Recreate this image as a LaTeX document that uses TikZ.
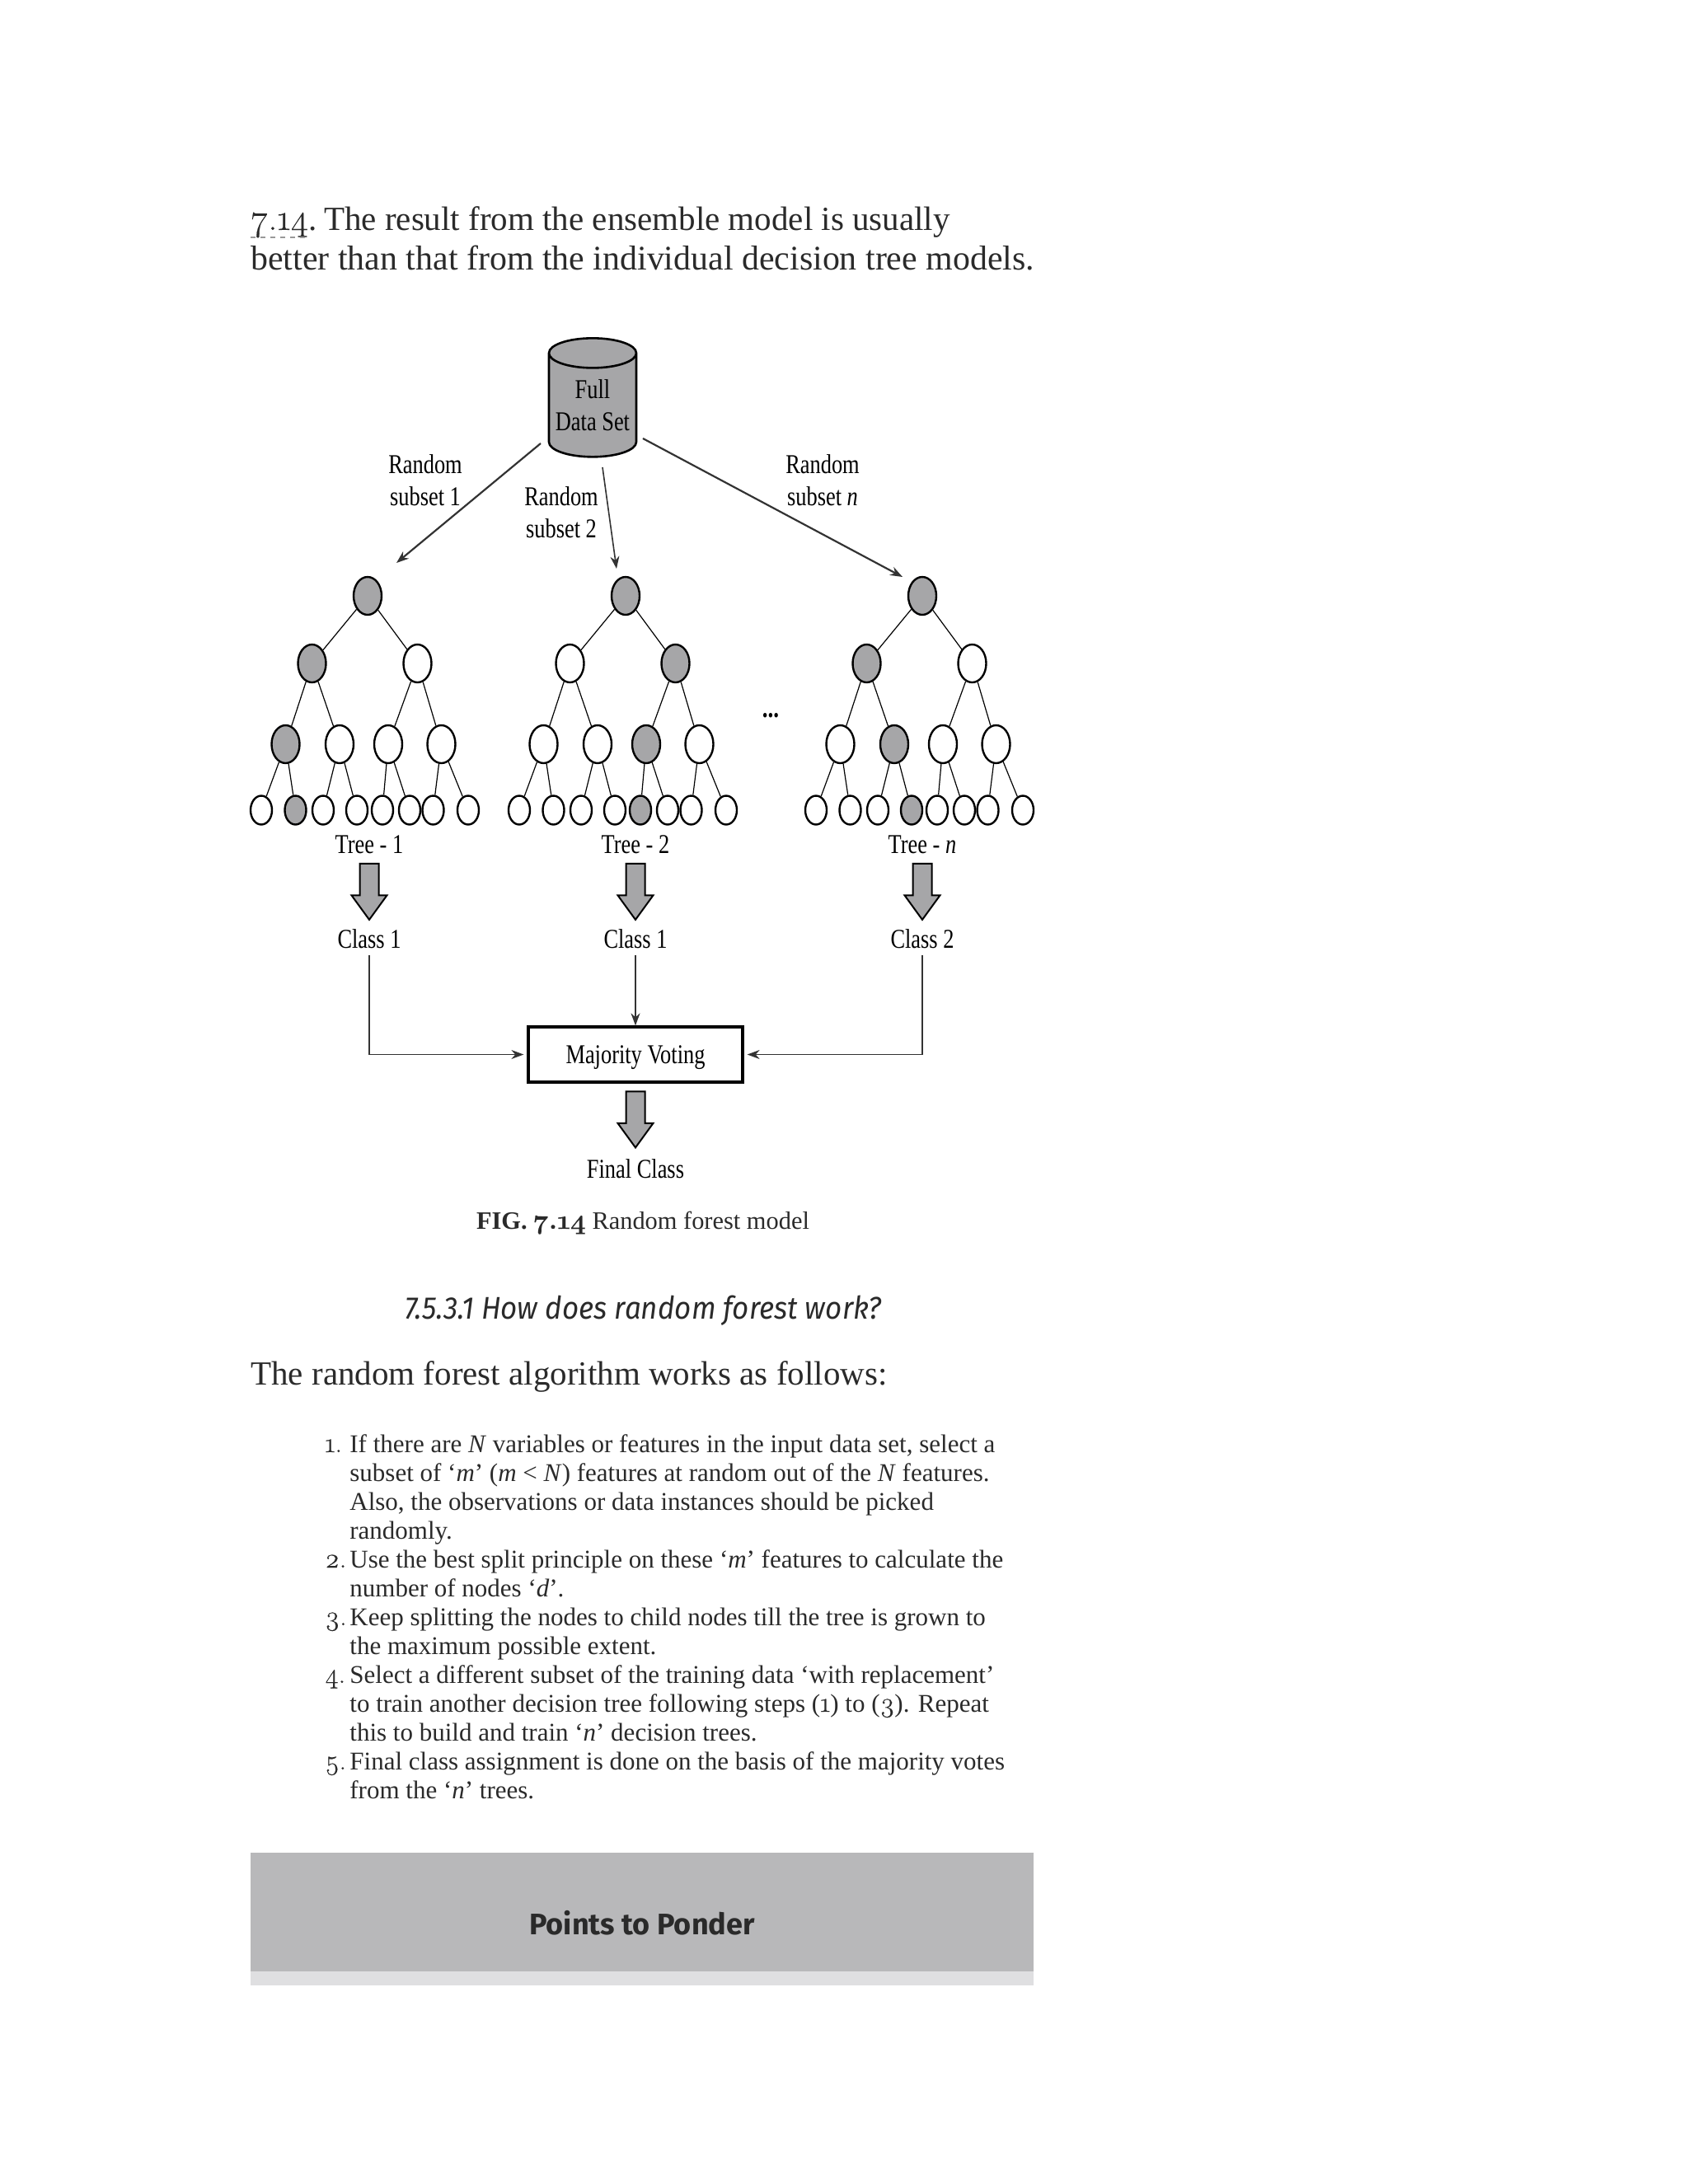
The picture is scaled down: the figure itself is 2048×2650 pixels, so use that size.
\documentclass[tikz,border=0pt]{standalone}
\usepackage{fontspec}
\setmainfont{Liberation Serif}
\newfontfamily\figfont[FakeStretch=0.8]{Liberation Serif}
\newfontfamily\osf[Numbers=OldStyle,Scale=1.08,FakeBold=0.4]{Latin Modern Roman}
\newfontfamily\headfont{Fira Sans}
\newfontfamily\headital[FakeStretch=0.92]{Fira Sans}
\newcommand{\osn}[1]{{\osf #1}}
\usepackage{tikz}
\usetikzlibrary{arrows.meta,shapes.geometric,shapes.arrows}
\definecolor{inkdark}{HTML}{2A2A2A}
\definecolor{shade}{HTML}{A6A6A8}
\definecolor{barmid}{HTML}{B8B8BA}
\definecolor{barlow}{HTML}{DFDFE1}

\begin{document}
\begin{tikzpicture}[
  x=0.5pt,y=-0.5pt,
  bodytxt/.style={font=\fontsize{20.5pt}{24pt}\selectfont,text=inkdark,anchor=base west,inner sep=0pt},
  itemtxt/.style={font=\fontsize{15.5pt}{17.5pt}\selectfont,text=inkdark,anchor=base west,align=left,inner sep=0pt},
  figtxt/.style={font=\figfont\fontsize{16.5pt}{19.5pt}\selectfont,align=center,inner sep=0pt},
  inode/.style={ellipse,draw,line width=1.2pt,inner sep=0pt,minimum width=17pt,minimum height=23pt},
  leaf/.style={inode,minimum width=13pt,minimum height=17.5pt},
  edge/.style={line width=0.6pt},
  arr/.style={-{Stealth[length=7.5pt,width=5.5pt]},line width=0.8pt,black!80},
  fat/.style={single arrow,draw,line width=1pt,fill=shade,shape border rotate=270,inner xsep=5.25pt,inner ysep=0pt,
    minimum height=34pt,minimum width=20.5pt,single arrow head extend=5pt,single arrow tip angle=72,
    single arrow head indent=0pt},
]
\useasboundingbox (0,0) rectangle (2048,2650);

% Intro lines
\node[bodytxt] (intro1) at (304,279) {\osn{7.14}.\hspace{-2.5pt} The result from the ensemble model is usually};
\node[bodytxt,font=\fontsize{20.95pt}{24pt}\selectfont] (intro2) at (304,327) {better than that from the individual decision tree models.};
\coordinate (ul1) at (304,288);
\coordinate (ul2) at (372,288);
\draw[dashed,black!40,line width=0.7pt] (ul1) -- (ul2);

% Data set and the three subsets
\node[cylinder,draw,line width=1.3pt,fill=shade,shape border rotate=90,aspect=0.4,inner sep=0pt,
  minimum width=53pt,minimum height=72pt,figtxt] (data) at (719,492) {Full\\Data Set};
\coordinate (s1) at (656,538);
\coordinate (e1) at (481,683);
\coordinate (s2) at (731,567);
\coordinate (e2) at (748,690);
\coordinate (s3) at (780,532);
\coordinate (e3) at (1095,700);
\draw[arr,line width=1.1pt] (s1) -- (e1);
\draw[arr] (s2) -- (e2);
\draw[arr,line width=1.1pt] (s3) -- (e3);
\node[figtxt] (sub1) at (516,583) {Random\\subset 1};
\node[figtxt] (sub2) at (681,622) {Random\\subset 2};
\node[figtxt] (subn) at (998,583) {Random\\subset \textit{n}};

% Trees: name/centre/grey node of each lower level
\foreach \t/\cx/\ga/\gb/\gc in {1/446/1/1/2,2/759/2/3/5,n/1119/1/2/4}{
  \node[inode,fill=shade] (root\t) at (\cx,723) {};
  \foreach \i/\dx in {1/-67.5,2/60.5}{
    \ifnum\i=\ga\def\fc{shade}\else\def\fc{white}\fi
    \node[inode,fill=\fc] (mid\t\i) at ({\cx+\dx},805) {};
    \draw[edge] (root\t) -- (mid\t\i);
  }
  \foreach \i/\p/\dx in {1/1/-99.5,2/1/-34,3/2/25,4/2/89.5}{
    \ifnum\i=\gb\def\fc{shade}\else\def\fc{white}\fi
    \node[inode,fill=\fc] (low\t\i) at ({\cx+\dx},903) {};
    \draw[edge] (mid\t\p) -- (low\t\i);
  }
  \foreach \i/\p/\dx in {1/1/-129,2/1/-87.5,3/2/-54,4/2/-13,5/3/18,6/3/51,7/4/79.5,8/4/122}{
    \ifnum\i=\gc\def\fc{shade}\else\def\fc{white}\fi
    \node[leaf,fill=\fc] (end\t\i) at ({\cx+\dx},983) {};
    \draw[edge] (low\t\p) -- (end\t\i);
  }
}
\node[figtxt,font=\figfont\fontsize{17pt}{19pt}\bfseries\selectfont] (dots) at (935,868) {...};

% Tree names, big arrows, classes
\node[figtxt] (tree1) at (448,1025) {Tree - 1};
\node[figtxt] (tree2) at (771,1025) {Tree - 2};
\node[figtxt] (treen) at (1119,1025) {Tree - \textit{n}};
\node[fat] (fat1) at (448,1074) {};
\node[fat] (fat2) at (771,1074) {};
\node[fat] (fatn) at (1119,1074) {};
\node[figtxt] (cls1) at (448,1139) {Class 1};
\node[figtxt] (cls2) at (771,1139) {Class 1};
\node[figtxt] (clsn) at (1119,1139) {Class 2};

% Voting
\node[draw,line width=1.6pt,minimum width=130pt,minimum height=33.5pt,figtxt,text height=14.5pt,text depth=3.5pt] (vote) at (771,1279.5) {Majority Voting};
\draw[arr,shorten <=4pt,shorten >=2pt] (cls1.south) |- (vote.west);
\draw[arr,shorten <=4pt] (cls2.south) -- (vote.north);
\draw[arr,shorten <=4pt,shorten >=2pt] (clsn.south) |- (vote.east);
\node[fat] (fatv) at (771,1350.5) {};
\node[figtxt] (final) at (771,1418) {Final Class};

% Caption and section head
\node[font=\fontsize{15.2pt}{20pt}\selectfont,text=inkdark,inner sep=0pt,anchor=base] (cap) at (780,1491) {\textbf{FIG. \osn{7.14}} Random forest model};
\node[font=\headital\itshape\fontsize{19pt}{22pt}\selectfont,text=inkdark,inner sep=0pt,anchor=base] (head) at (780,1600) {7.5.3.1 How does random forest work?};
\node[bodytxt] (lead) at (304,1680) {The random forest algorithm works as follows:};

% Numbered steps
\node[itemtxt] (num1) at (394,1762) {\osn{1.}};
\node[itemtxt] (num2) at (394,1902) {\osn{2.}};
\node[itemtxt] (num3) at (394,1972) {\osn{3.}};
\node[itemtxt] (num4) at (394,2042) {\osn{4.}};
\node[itemtxt] (num5) at (394,2147) {\osn{5.}};
\node[itemtxt] (item1) at (424,1867) {If there are \textit{N} variables or features in the input data set, select a\\
  subset of ‘\textit{m}’ (\textit{m} < \textit{N}) features at random out of the \textit{N} features.\\
  Also, the observations or data instances should be picked\\
  randomly.};
\node[itemtxt] (item2) at (424,1937) {Use the best split principle on these ‘\textit{m}’ features to calculate the\\
  number of nodes ‘\textit{d}’.};
\node[itemtxt] (item3) at (424,2007) {Keep splitting the nodes to child nodes till the tree is grown to\\
  the maximum possible extent.};
\node[itemtxt] (item4) at (424,2112) {Select a different subset of the training data ‘with replacement’\\
  to train another decision tree following steps (\osn{1}) to (\osn{3}). Repeat\\
  this to build and train ‘\textit{n}’ decision trees.};
\node[itemtxt] (item5) at (424,2182) {Final class assignment is done on the basis of the majority votes\\
  from the ‘\textit{n}’ trees.};

% Grey bar
\node[fill=barlow,minimum width=475pt,minimum height=80.5pt,inner sep=0pt,anchor=north west] (barback) at (304,2248) {};
\node[fill=barmid,minimum width=475pt,minimum height=72pt,inner sep=0pt,anchor=north west] (bar) at (304,2248) {};
\node[font=\headfont\bfseries\fontsize{18pt}{22pt}\selectfont,text=inkdark,inner sep=0pt,anchor=base] (ponder) at (779,2347) {Points to Ponder};
\end{tikzpicture}
\end{document}
